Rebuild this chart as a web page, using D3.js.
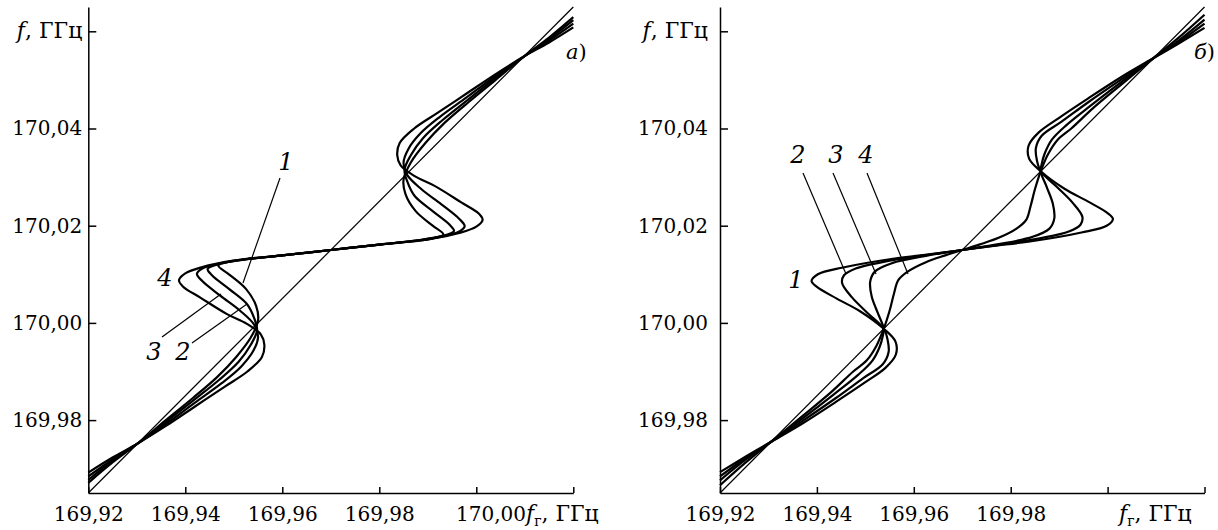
<!DOCTYPE html>
<html>
<head>
<meta charset="utf-8">
<script src="https://cdn.jsdelivr.net/npm/d3@7"></script>
<style>
  body { margin: 0; background: #fff; }
  text { font-family: "DejaVu Serif", serif; fill: #000; }
  .axis path, .axis line { stroke: #000; stroke-width: 1.5; }
</style>
</head>
<body>
<script>
// ticks (GHz)
var xTicks = [169.92, 169.94, 169.96, 169.98, 170.00, 170.02];
var yTicks = [169.98, 170.00, 170.02, 170.04, 170.06];

// straight line f = f_r + 0.045
var diag = [[169.92, 169.965], [170.02, 170.065]];

// panel a) — curves 1..4, points [f_r, f] in GHz
var a1 = [[169.92,169.9671],[169.925,169.9713],[169.9302,169.9752],[169.936,169.98],[169.9415,169.9845],[169.9465,169.9888],[169.9505,169.993],[169.9535,169.997],[169.955,170.0005],[169.9546,170.0035],[169.9525,170.007],[169.949,170.01],[169.9468,170.0118],[169.949,170.0126],[169.953,170.0132],[169.96,170.0139],[169.97,170.015],
  [169.98,170.0161],[169.987,170.0168],[169.991,170.0174],[169.9932,170.0182],[169.991,170.02],[169.9875,170.023],[169.9854,170.0265],[169.985,170.0295],[169.9865,170.033],[169.9895,170.037],[169.9935,170.0412],[169.9985,170.0455],[170.004,170.05],[170.0098,170.0548],[170.015,170.0587],[170.02,170.0629]];
var a2 = [[169.92,169.9677],[169.925,169.9716],[169.9302,169.9752],[169.936,169.9796],[169.942,169.9843],[169.947,169.9883],[169.951,169.992],[169.9535,169.9955],[169.9548,169.9985],[169.9542,170.001],[169.9527,170.0039],[169.949,170.007],[169.9455,170.0098],[169.9446,170.0111],[169.9465,170.012],[169.952,170.013],[169.96,170.0139],[169.97,170.015],
  [169.98,170.0161],[169.988,170.017],[169.9935,170.018],[169.9954,170.0189],[169.9945,170.0202],[169.991,170.023],[169.9873,170.0261],[169.9858,170.029],[169.9852,170.0315],[169.9865,170.0345],[169.989,170.038],[169.993,170.0417],[169.998,170.0457],[170.004,170.0504],[170.0098,170.0548],[170.015,170.0584],[170.02,170.0623]];
var a3 = [[169.92,169.9684],[169.925,169.9719],[169.9302,169.9752],[169.936,169.9792],[169.942,169.9836],[169.9475,169.9876],[169.9515,169.991],[169.954,169.9942],[169.955,169.997],[169.9543,169.9995],[169.9513,170.0025],[169.9472,170.0056],[169.9435,170.0086],[169.9424,170.0101],[169.9435,170.0112],[169.947,170.0122],[169.952,170.013],[169.96,170.0139],[169.97,170.015],
  [169.98,170.0161],[169.988,170.017],[169.993,170.0178],[169.9965,170.0188],[169.9976,170.0199],[169.9965,170.0214],[169.9928,170.0244],[169.9887,170.0275],[169.9857,170.0305],[169.985,170.033],[169.986,170.0358],[169.9885,170.039],[169.9925,170.0424],[169.998,170.0464],[170.004,170.0508],[170.0098,170.0548],[170.015,170.0581],[170.02,170.0616]];
var a4 = [[169.92,169.9692],[169.925,169.9723],[169.9302,169.9752],[169.936,169.9788],[169.942,169.9828],[169.948,169.9868],[169.9528,169.99],[169.9558,169.993],[169.9563,169.9955],[169.9556,169.9976],[169.9527,169.9998],[169.9486,170.0018],[169.9431,170.0052],[169.9395,170.0075],[169.9387,170.0088],[169.94,170.0102],[169.9435,170.0115],[169.9499,170.0128],[169.96,170.0139],[169.97,170.015],
  [169.98,170.0161],[169.9901,170.0172],[169.9965,170.0185],[170.0,170.0198],[170.0013,170.0212],[170.0005,170.0225],[169.9969,170.0248],[169.9914,170.0282],[169.9873,170.0302],[169.9844,170.0324],[169.9837,170.0345],[169.9842,170.037],[169.9872,170.04],[169.992,170.0432],[169.998,170.0472],[170.004,170.0512],[170.0098,170.0548],[170.015,170.0577],[170.02,170.0608]];

// panel б) — curves 1..4
var b1 = [[169.92,169.9693],[169.9255,169.9726],[169.9305,169.9755],[169.937,169.9793],[169.944,169.9838],[169.95,169.9878],[169.9542,169.9908],[169.9563,169.9935],[169.9562,169.9962],[169.9538,169.9988],[169.9489,170.0024],[169.9441,170.005],[169.94,170.0074],[169.9389,170.0086],[169.9402,170.01],[169.9454,170.0114],[169.9557,170.0132],[169.964,170.0142],[169.97,170.015],
  [169.976,170.0158],[169.9843,170.0168],[169.9946,170.0186],[169.9998,170.02],[170.0011,170.0214],[170.0,170.0226],[169.9959,170.025],[169.9911,170.0276],[169.9862,170.0312],[169.9838,170.0338],[169.9837,170.0365],[169.9858,170.0392],[169.99,170.0422],[169.996,170.0462],[170.003,170.0507],[170.0095,170.0545],[170.0145,170.0574],[170.02,170.0607]];
var b2 = [[169.92,169.9684],[169.9253,169.9722],[169.9305,169.9755],[169.937,169.9798],[169.944,169.9846],[169.9495,169.9886],[169.9536,169.9915],[169.9548,169.994],[169.9546,169.9965],[169.9538,169.9988],[169.9505,170.002],[169.9472,170.0053],[169.9452,170.0082],[169.9456,170.0098],[169.948,170.0112],[169.954,170.0126],[169.962,170.0139],[169.97,170.015],
  [169.978,170.0161],[169.986,170.0174],[169.992,170.0188],[169.9944,170.0202],[169.9948,170.0218],[169.9928,170.0247],[169.9895,170.028],[169.9862,170.0312],[169.9854,170.0335],[169.9852,170.036],[169.9864,170.0385],[169.9905,170.0414],[169.996,170.0454],[170.003,170.0502],[170.0095,170.0545],[170.0147,170.0578],[170.02,170.0616]];
var b3 = [[169.92,169.9676],[169.9252,169.9718],[169.9305,169.9755],[169.937,169.9803],[169.9435,169.9853],[169.9485,169.9893],[169.9515,169.9923],[169.953,169.9952],[169.9536,169.9973],[169.9538,169.9988],[169.9525,170.0022],[169.9513,170.0055],[169.951,170.0085],[169.952,170.0106],[169.9555,170.0123],[169.9625,170.0138],[169.97,170.015],
  [169.9775,170.0162],[169.9845,170.0177],[169.988,170.0194],[169.989,170.0215],[169.9887,170.0245],[169.9875,170.0278],[169.9862,170.0312],[169.9864,170.0327],[169.987,170.0348],[169.9885,170.0377],[169.9915,170.0407],[169.9965,170.0447],[170.003,170.0497],[170.0095,170.0545],[170.0148,170.0582],[170.02,170.0624]];
var b4 = [[169.92,169.9666],[169.9252,169.9712],[169.9305,169.9755],[169.937,169.9808],[169.943,169.9858],[169.9475,169.99],[169.9503,169.9923],[169.9523,169.9953],[169.9538,169.9988],[169.955,170.0025],[169.9559,170.006],[169.9568,170.0088],[169.9588,170.0106],[169.9625,170.0125],[169.9665,170.0139],[169.97,170.015],
  [169.9735,170.0161],[169.9775,170.0175],[169.9812,170.0194],[169.9832,170.0212],[169.9841,170.024],[169.985,170.0275],[169.9862,170.0312],[169.9877,170.0347],[169.9897,170.0377],[169.9925,170.04],[169.997,170.0442],[170.003,170.0492],[170.0095,170.0545],[170.0148,170.0588],[170.02,170.0634]];

var width = 1218, height = 530;

var svg = d3.select("body").append("svg")
    .attr("width", width)
    .attr("height", height);

var y = d3.scaleLinear().domain([169.965, 170.065]).range([493, 7]);
var comma = function(d) { return d3.format(".2f")(d).replace(".", ","); };

var panels = [
  { x: d3.scaleLinear().domain([169.92, 170.02]).range([88.3, 573.3]),
    curves: [a1, a2, a3, a4], pad: 6, name: "а", nameX: 566 },
  { x: d3.scaleLinear().domain([169.92, 170.02]).range([720, 1204.5]),
    curves: [b1, b2, b3, b4], pad: 12, name: "б", nameX: 1194 }
];

panels.forEach(function(p) {
  var x = p.x;
  var g = svg.append("g");

  var line = d3.line()
      .x(function(d) { return x(d[0]); })
      .y(function(d) { return y(d[1]); })
      .curve(d3.curveCatmullRom.alpha(0.5));

  // thin straight line
  g.append("path")
      .attr("d", line(diag))
      .attr("fill", "none")
      .attr("stroke", "#000")
      .attr("stroke-width", 1.2);

  g.selectAll(".curve")
      .data(p.curves)
      .enter().append("path")
      .attr("class", "curve")
      .attr("d", line)
      .attr("fill", "none")
      .attr("stroke", "#000")
      .attr("stroke-width", 2.2);

  // axes, ticks pointing inwards
  g.append("g")
      .attr("class", "axis")
      .attr("transform", "translate(0," + y.range()[0] + ")")
      .call(d3.axisBottom(x).tickValues(xTicks).tickSizeInner(-6).tickSizeOuter(0)
            .tickPadding(14).tickFormat(function(d) { return d <= 169.98 ? comma(d) : ""; }))
      .call(function(a) { a.selectAll("text").attr("font-size", 20).attr("font-family", "DejaVu Serif"); });

  g.append("g")
      .attr("class", "axis")
      .attr("transform", "translate(" + x.range()[0] + ",0)")
      .call(d3.axisLeft(y).tickValues(yTicks).tickSizeInner(-8).tickSizeOuter(0)
            .tickPadding(p.pad).tickFormat(function(d) { return d < 170.05 ? comma(d) : ""; }))
      .call(function(a) { a.selectAll("text").attr("font-size", 20).attr("font-family", "DejaVu Serif"); });

  // axis title at the top tick
  var ty = g.append("text")
      .attr("x", x.range()[0] - p.pad)
      .attr("y", y(170.06))
      .attr("dy", "0.32em")
      .attr("text-anchor", "end")
      .attr("font-size", 22);
  ty.append("tspan").attr("font-style", "italic").text("f");
  ty.append("tspan").text(", ГГц");

  var nm = g.append("text")
      .attr("x", p.nameX)
      .attr("y", 59)
      .attr("font-size", 21);
  nm.append("tspan").attr("font-style", "italic").text(p.name);
  nm.append("tspan").text(")");
});

// bottom titles
function frTitle(xpos) {
  var t = svg.append("text")
      .attr("x", xpos)
      .attr("y", 521)
      .attr("font-size", 22);
  t.append("tspan").attr("font-style", "italic").text("f");
  t.append("tspan").attr("font-size", 14).attr("dy", 5).text("г");
  t.append("tspan").attr("dy", -5).text(", ГГц");
}
svg.append("text")
    .attr("x", 491).attr("y", 521)
    .attr("text-anchor", "middle")
    .attr("font-size", 20)
    .text(comma(170.00));
frTitle(526);
frTitle(1119);

// curve numbers and leader lines
var labels = [
  { t: "1", x: 286, y: 170, l: [280, 178, 243, 283] },
  { t: "4", x: 165, y: 286 },
  { t: "3", x: 154, y: 360, l: [162, 337, 221, 294] },
  { t: "2", x: 183, y: 360, l: [192, 343, 247, 304] },
  { t: "1", x: 796, y: 288 },
  { t: "2", x: 798, y: 163, l: [803, 173, 846, 274] },
  { t: "3", x: 836, y: 163, l: [833, 173, 876, 274] },
  { t: "4", x: 866, y: 163, l: [867, 173, 908, 274] }
];

svg.selectAll(".num")
    .data(labels)
    .enter().append("text")
    .attr("class", "num")
    .attr("x", function(d) { return d.x; })
    .attr("y", function(d) { return d.y; })
    .attr("text-anchor", "middle")
    .attr("font-size", 24)
    .attr("font-style", "italic")
    .text(function(d) { return d.t; });

svg.selectAll(".lead")
    .data(labels.filter(function(d) { return d.l; }))
    .enter().append("line")
    .attr("class", "lead")
    .attr("x1", function(d) { return d.l[0]; })
    .attr("y1", function(d) { return d.l[1]; })
    .attr("x2", function(d) { return d.l[2]; })
    .attr("y2", function(d) { return d.l[3]; })
    .attr("stroke", "#000")
    .attr("stroke-width", 1.2);
</script>
</body>
</html>
